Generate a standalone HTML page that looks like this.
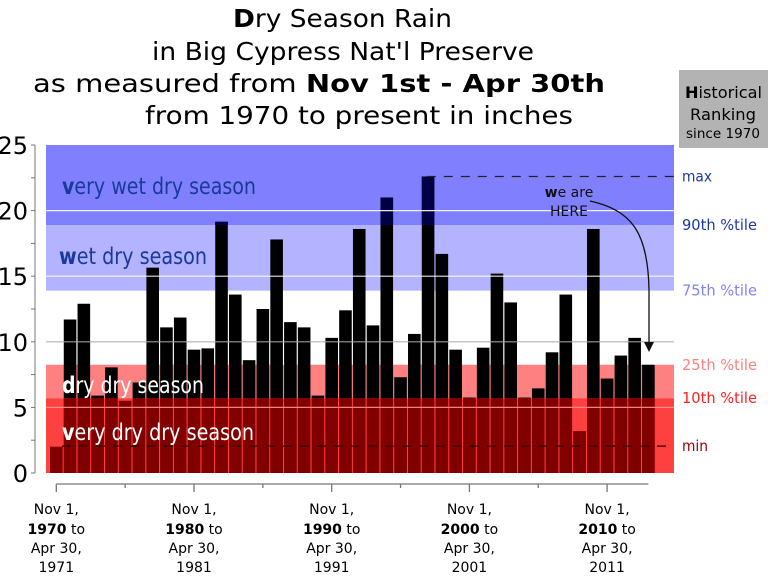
<!DOCTYPE html>
<html><head><meta charset="utf-8"><style>
body{margin:0;background:#fff;}
svg text{font-family:"DejaVu Sans","Liberation Sans",sans-serif;}
</style></head><body>
<svg id="chart" width="768" height="573" viewBox="0 0 768 573" xmlns="http://www.w3.org/2000/svg">
<g font-size="25" fill="#000">
<text x="233" y="27" textLength="219" lengthAdjust="spacingAndGlyphs"><tspan font-weight="bold">D</tspan>ry Season Rain</text>
<text x="152" y="60" textLength="382" lengthAdjust="spacingAndGlyphs">in Big Cypress Nat'l Preserve</text>
<text x="33" y="92" textLength="572" lengthAdjust="spacingAndGlyphs">as measured from <tspan font-weight="bold">Nov 1st - Apr 30th</tspan></text>
<text x="145" y="124" textLength="428" lengthAdjust="spacingAndGlyphs">from 1970 to present in inches</text>
</g>
<g>
<rect x="679" y="70" width="89" height="78" fill="#b3b3b3"/>
<text x="685" y="98" font-size="16" textLength="77" lengthAdjust="spacingAndGlyphs"><tspan font-weight="bold">H</tspan>istorical</text>
<text x="690" y="120" font-size="16" textLength="66" lengthAdjust="spacingAndGlyphs">Ranking</text>
<text x="686" y="138" font-size="13" textLength="74" lengthAdjust="spacingAndGlyphs">since 1970</text>
</g>
<g id="bands"></g>
<g id="bars"></g>
<g id="overlay"></g>
<g id="axes"></g>
</svg>
<script>
const years=[];for(let y=1970;y<=2013;y++)years.push(y);
const rainfall=[2.0,11.7,12.9,5.9,8.05,5.5,6.9,15.65,11.1,11.85,9.4,9.5,19.15,13.6,8.6,12.5,17.8,11.5,11.1,5.9,10.3,12.4,18.6,11.25,21.0,7.3,10.6,22.6,16.7,9.4,5.75,9.55,15.2,13.0,5.75,6.45,9.2,13.6,3.2,18.6,7.2,8.95,10.3,8.25];
const yTicks=[0,5,10,15,20,25];
const thresholds={min:2.05,p10:5.7,p25:8.25,p75:13.9,p90:18.9,max:22.6,top:25};
const xLabelYears=[1970,1980,1990,2000,2010];

const NS="http://www.w3.org/2000/svg";
const X0=50,PITCH=13.77,BW=12.6,Y0=473,YS=(473-145)/25,BL=46,BR=674;
const yS=v=>Y0-v*YS;
const xL=i=>X0+i*PITCH;
function mk(p,tag,attrs,txt){const e=document.createElementNS(NS,tag);for(const k in attrs)e.setAttribute(k,attrs[k]);if(txt!==undefined)e.textContent=txt;p.appendChild(e);return e;}
const bands=document.getElementById('bands'),bars=document.getElementById('bars'),ov=document.getElementById('overlay'),ax=document.getElementById('axes');
let r;
r=mk(bands,'rect',{x:BL,y:yS(thresholds.top),width:BR-BL,height:yS(thresholds.p90)-yS(thresholds.top),fill:'#8080ff'});

r=mk(bands,'rect',{x:BL,y:yS(thresholds.p90),width:BR-BL,height:yS(thresholds.p75)-yS(thresholds.p90),fill:'#b3b3ff'});

r=mk(bands,'rect',{x:BL,y:yS(thresholds.p25),width:BR-BL,height:yS(thresholds.p10)-yS(thresholds.p25),fill:'#ff8080'});

rainfall.forEach((v,i)=>{
  const b=mk(bars,'rect',{x:xL(i),y:yS(v),width:BW,height:Y0-yS(v),fill:'#000'});
  
  
  if(v>thresholds.p90){const t=mk(bars,'rect',{x:xL(i),y:yS(v),width:BW,height:yS(thresholds.p90)-yS(v),fill:'#000044'});
    
    }
});
r=mk(ov,'rect',{x:BL,y:yS(thresholds.p10),width:BR-BL,height:Y0-yS(thresholds.p10),fill:'#ff0000','fill-opacity':'0.75'});

rainfall.forEach((v,i)=>{
  const h=Math.min(v,thresholds.p10);
  const b=mk(ov,'rect',{x:xL(i),y:yS(h),width:BW,height:Y0-yS(h),fill:'#800000'});
  
  
});
[5,10,15,20].forEach(v=>{
  const g=mk(ov,'line',{x1:BL,x2:BR,y1:yS(v),y2:yS(v),stroke:v<=5?'#ff9090':(v==10?'#aaaaaa':'#ffffff'),'stroke-width':1.2,'stroke-opacity':0.9});
  
  
});
let l=mk(ov,'line',{x1:62,x2:666,y1:yS(thresholds.min),y2:yS(thresholds.min),stroke:'#300000','stroke-width':1.3,'stroke-dasharray':'9,8'});

l=mk(ov,'line',{x1:xL(27)+5,x2:BR,y1:yS(thresholds.max),y2:yS(thresholds.max),stroke:'#222','stroke-width':1.3,'stroke-dasharray':'9,8'});

function lbl(x,y,fs,col,first,rest,name,len){const t=mk(ov,'text',{x:x,y:y,'font-size':fs,fill:col,textLength:len,lengthAdjust:'spacingAndGlyphs'});
  mk(t,'tspan',{'font-weight':'bold'},first);mk(t,'tspan',{},rest);
  }
lbl(62,194,23,'#1a3a9a','v','ery wet dry season','very-wet-label',194);
lbl(59,264,23,'#1a3a9a','w','et dry season','wet-label',148);
lbl(62,393,23,'#ffffff','d','ry dry season','dry-label',142);
lbl(62,440,23,'#ffffff','v','ery dry dry season','very-dry-label',192);
let t=mk(ov,'text',{x:569,y:197,'font-size':14,'text-anchor':'middle',fill:'#111'});
mk(t,'tspan',{'font-weight':'bold'},'w');mk(t,'tspan',{},'e are');

t=mk(ov,'text',{x:569,y:216,'font-size':14,'text-anchor':'middle',fill:'#111'},'HERE');

let p=mk(ov,'path',{d:'M590,201 C630,210 648,230 649,290 L649,343',fill:'none',stroke:'#111','stroke-width':1.3});

p=mk(ov,'path',{d:'M644,342 L654,342 L649,352 Z',fill:'#111'});

[['max',thresholds.max,'#1a3aa0','max-label',30],['90th %tile',thresholds.p90,'#1a3aa0','p90-label',75],['75th %tile',thresholds.p75,'#8080ff','p75-label',75],['25th %tile',thresholds.p25,'#ff8080','p25-label',75],['10th %tile',thresholds.p10,'#ff2020','p10-label',75],['min',thresholds.min,'#a00000','min-label',26]].forEach(a=>{
  const e=mk(ax,'text',{x:682,y:yS(a[1])+5,'font-size':15,fill:a[2],textLength:a[4],lengthAdjust:'spacingAndGlyphs'},a[0]);
  
  
});
l=mk(ax,'line',{x1:35,x2:35,y1:145,y2:Y0,stroke:'#777','stroke-width':1});

for(let v=0;v<=25;v+=2.5){const tk=mk(ax,'line',{x1:31,x2:35,y1:yS(v),y2:yS(v),stroke:'#777'});
  }
yTicks.forEach(v=>{const e=mk(ax,'text',{x:28,y:yS(v)+9,'font-size':24,'text-anchor':'end',fill:'#000','font-family':'Liberation Sans, sans-serif'},String(v));
  });
const cx=i=>xL(i)+BW/2;
l=mk(ax,'line',{x1:cx(0),x2:cx(43),y1:484,y2:484,stroke:'#777','stroke-width':1.3});

for(let y=1970;y<=2013;y+=5){const i=y-1970;const maj=(y%10==0);
  const tk=mk(ax,'line',{x1:cx(i),x2:cx(i),y1:484,y2:maj?492:488,stroke:'#777','stroke-width':1.3});
  }
xLabelYears.forEach(y=>{const x=cx(y-1970);
  const g=mk(ax,'g',{'font-size':14,'text-anchor':'middle',fill:'#000'});
  
  mk(g,'text',{x:x,y:514},'Nov 1,');
  const t2=mk(g,'text',{x:x,y:534});mk(t2,'tspan',{'font-weight':'bold'},String(y));mk(t2,'tspan',{},' to');
  mk(g,'text',{x:x,y:553},'Apr 30,');
  mk(g,'text',{x:x,y:572},String(y+1));
});
</script>
</body></html>
